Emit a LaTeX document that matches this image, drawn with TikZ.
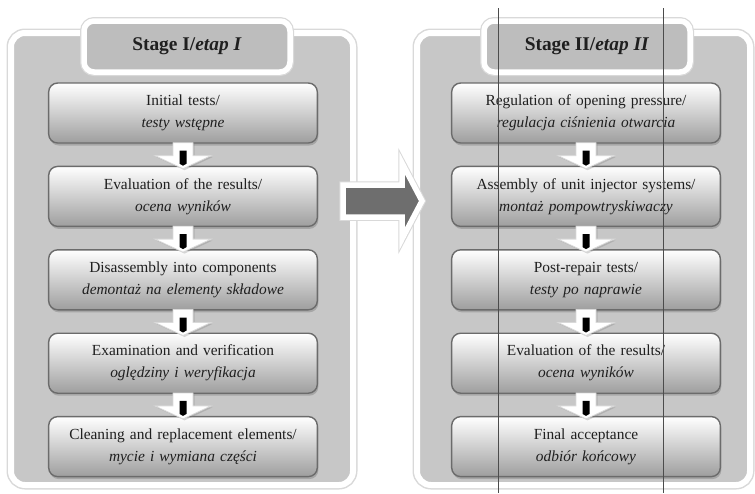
\documentclass[tikz,border=0pt]{standalone}
\usepackage{fontspec}
\setmainfont{Liberation Serif}
\usetikzlibrary{calc,positioning}
\usetikzlibrary{shapes,shadows}

\definecolor{panelGray}{gray}{0.78}
\definecolor{tabGray}{gray}{0.74}
\definecolor{edgeGray}{gray}{0.42}
\definecolor{bigArrowGray}{gray}{0.43}
\definecolor{textGray}{gray}{0.12}
\definecolor{haloGray}{gray}{0.85}

\tikzset{
	halo/.style={preaction={draw=haloGray, line width=#1}},
	panel/.style={draw=white, line width=6pt, fill=panelGray, rounded corners=14pt,
		drop shadow={shadow xshift=1.5pt, shadow yshift=-2.5pt, opacity=0.35}, halo=9pt},
	stagetab/.style={draw=white, line width=5.5pt, fill=tabGray, rounded corners=10pt,
		minimum width=206pt, minimum height=51pt, text=textGray,
		font=\fontsize{19.4}{22}\selectfont\bfseries,
		drop shadow={shadow xshift=1.5pt, shadow yshift=-2pt, opacity=0.3}, halo=8pt},
	stepbox/.style={draw=edgeGray, line width=1.4pt, rounded corners=9pt,
		top color=white, middle color=black!10, bottom color=black!38,
		minimum width=268pt, minimum height=60pt, text width=262pt, align=center,
		text=textGray, font=\fontsize{15.4}{22}\selectfont,
		drop shadow={shadow xshift=1pt, shadow yshift=-2.5pt, opacity=0.45}},
	guide/.style={draw=black!70, line width=0.6pt}
}

\begin{document}
\begin{tikzpicture}[x=1pt,y=-1pt]

\newcommand{\stepArrow}[2]{%upper box, lower box
	\filldraw[white, draw=haloGray, line width=0.8pt,
		drop shadow={shadow xshift=1.5pt, shadow yshift=-1.5pt, opacity=0.3}]
	($(#1.south)+(-10,-1)$) --
	($(#1.south)+(10,-1)$) --
	($(#1.south)+(10,12)$) --
	($(#1.south)+(28,12)$) --
	($(#2.north)+(0,3)$) --
	($(#1.south)+(-28,12)$) --
	($(#1.south)+(-10,12)$) --
	cycle;
	\fill[black]
	($(#1.south)+(-3.5,7)$) --
	($(#1.south)+(3.5,7)$) --
	($(#1.south)+(3.5,20)$) --
	($(#1.south)+(0,22)$) --
	($(#1.south)+(-3.5,20)$) --
	cycle;
}

\useasboundingbox (0,0) rectangle (755,493);

% panels
\node[panel, minimum width=342pt, minimum height=452pt] (stageA) at (182,259) {};
\node[panel, minimum width=333pt, minimum height=452pt] (stageB) at (583.5,259) {};

\node[stagetab] (tabA) at (187,46.5) {Stage I/\textit{etap I}};
\node[stagetab] (tabB) at (587,46.5) {Stage II/\textit{etap II}};

% stage I
\node[stepbox] (a1) at (183,113) {Initial tests/\\\textit{testy wstępne}};
\node[stepbox, below=22pt of a1] (a2) {Evaluation of the results/\\\textit{ocena wyników}};
\node[stepbox, below=22pt of a2] (a3) {Disassembly into components\\\textit{demontaż na elementy składowe}};
\node[stepbox, below=22pt of a3] (a4) {Examination and verification\\\textit{oględziny i weryfikacja}};
\node[stepbox, below=22pt of a4] (a5) {Cleaning and replacement elements/\\\textit{mycie i wymiana części}};

% stage II
\node[stepbox] (b1) at (586,113) {Regulation of opening pressure/\\\textit{regulacja ciśnienia otwarcia}};
\node[stepbox, below=22pt of b1] (b2) {Assembly of unit injector systems/\\\textit{montaż pompowtryskiwaczy}};
\node[stepbox, below=22pt of b2] (b3) {Post-repair tests/\\\textit{testy po naprawie}};
\node[stepbox, below=22pt of b3] (b4) {Evaluation of the results/\\\textit{ocena wyników}};
\node[stepbox, below=22pt of b4] (b5) {Final acceptance\\\textit{odbiór końcowy}};

\foreach \i/\j in {1/2,2/3,3/4,4/5}
{
	\stepArrow{a\i}{a\j}
	\stepArrow{b\i}{b\j}
}

% arrow between the stages
\coordinate (bigTail) at ($(stageA.east)+(-13,-58)$);
\coordinate (bigTip) at ($(stageB.west)+(8,-58)$);
\draw[white, line width=5.5pt, fill=bigArrowGray, line join=miter, halo=7.5pt,
	drop shadow={shadow xshift=2pt, shadow yshift=-2pt, opacity=0.3}]
	($(bigTail)+(0,-16)$) --
	($(bigTip)+(-20,-16)$) --
	($(bigTip)+(-20,-38)$) --
	(bigTip) --
	($(bigTip)+(-20,38)$) --
	($(bigTip)+(-20,16)$) --
	($(bigTail)+(0,16)$) --
	cycle;

% thin vertical lines
\draw[guide] (498,8) -- (498,493);
\draw[guide] (663,8) -- (663,493);

\end{tikzpicture}
\end{document}
